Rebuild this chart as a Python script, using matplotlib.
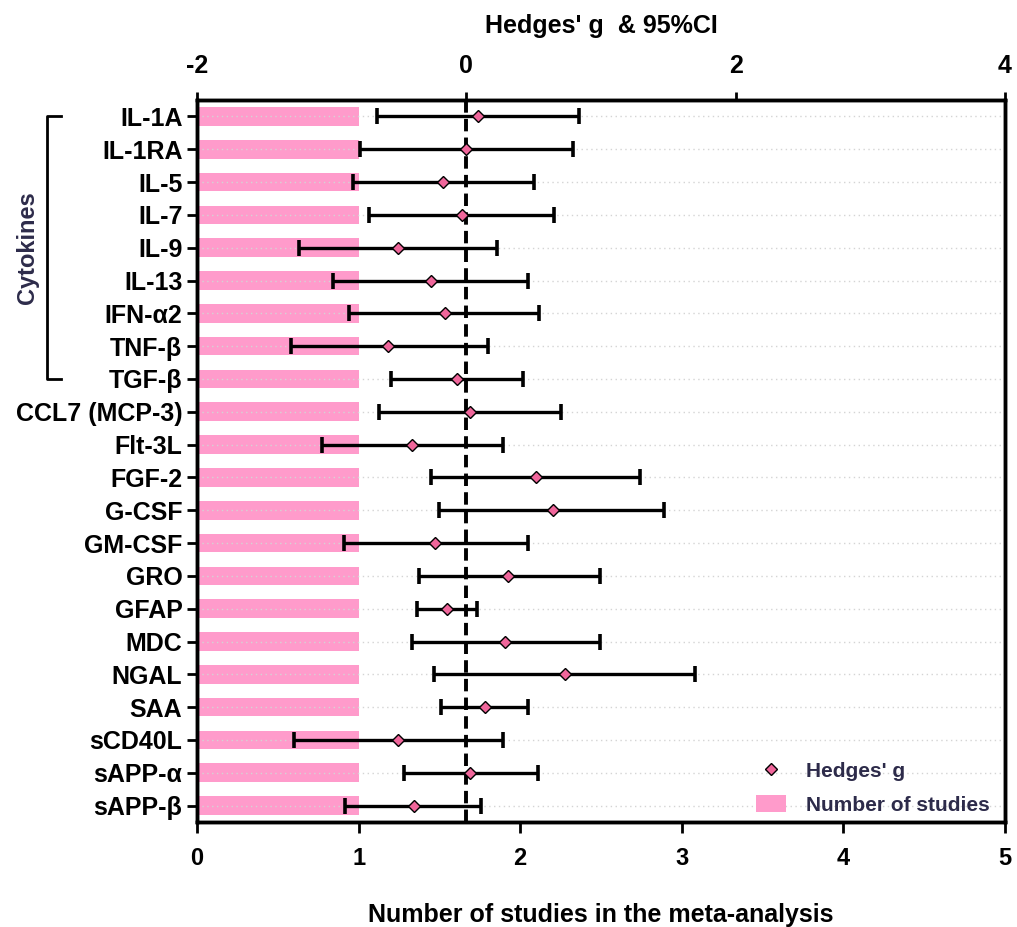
import numpy as np
import matplotlib.pyplot as plt
import matplotlib.transforms as mtransforms
from matplotlib.lines import Line2D
from matplotlib.patches import Patch

plt.rcParams['font.family'] = ['Liberation Sans', 'DejaVu Sans']
plt.rcParams['font.weight'] = 'bold'
plt.rcParams['axes.labelweight'] = 'bold'
plt.rcParams['axes.unicode_minus'] = False

markers = ['IL-1A', 'IL-1RA', 'IL-5', 'IL-7', 'IL-9', 'IL-13', 'IFN-α2', 'TNF-β', 'TGF-β',
           'CCL7 (MCP-3)', 'Flt-3L', 'FGF-2', 'G-CSF', 'GM-CSF', 'GRO', 'GFAP', 'MDC', 'NGAL',
           'SAA', 'sCD40L', 'sAPP-α', 'sAPP-β']
n_studies = [1, 1, 1, 1, 1, 1, 1, 1, 1, 1, 1, 1, 1, 1, 1, 1, 1, 1, 1, 1, 1, 1]
hedges_g = [0.09, 0.00, -0.17, -0.03, -0.51, -0.26, -0.16, -0.58, -0.07, 0.03, -0.40,
            0.52, 0.64, -0.23, 0.31, -0.14, 0.29, 0.73, 0.14, -0.51, 0.03, -0.39]
ci_low = [-0.66, -0.79, -0.84, -0.72, -1.24, -0.99, -0.87, -1.30, -0.56, -0.65, -1.07,
          -0.26, -0.20, -0.91, -0.35, -0.37, -0.40, -0.24, -0.19, -1.28, -0.46, -0.90]
ci_high = [0.84, 0.79, 0.50, 0.65, 0.23, 0.46, 0.54, 0.16, 0.42, 0.70, 0.27,
           1.29, 1.47, 0.46, 0.99, 0.08, 0.99, 1.70, 0.46, 0.27, 0.53, 0.11]
group_name = 'Cytokines'
group_rows = (0, 8)  # IL-1A .. TGF-β

bar_color = '#ff9bcb'
point_color = '#f0669b'
text_color = '#2d2b4a'

W, H = 1017, 927
fig = plt.figure(figsize=(W / 100, H / 100), dpi=100)
ax = fig.add_axes([197 / W, 1 - 822 / H, (1005 - 197) / W, (822 - 100) / H])

y = np.arange(len(markers))
g = np.array(hedges_g)
err = np.vstack([g - np.array(ci_low), np.array(ci_high) - g])

# bottom axis: number of studies
ax.barh(y, n_studies, height=0.57, color=bar_color, zorder=1)
ax.hlines(y, 0, 5, colors='#d4d4d4', linestyles=(0, (1, 2.5)), linewidth=1, zorder=2)
ax.set_xlim(0, 5)
ax.set_ylim(len(markers) - 0.5, -0.5)
ax.set_yticks(y)
ax.set_yticklabels(markers, fontsize=18)
ax.set_xticks(range(6))
ax.tick_params(axis='x', labelsize=17, width=2, length=8, pad=10)
ax.tick_params(axis='y', width=2, length=7, pad=3.5)
ax.set_xlabel('Number of studies in the meta-analysis', fontsize=18, labelpad=24)

# top axis: Hedges' g
ax2 = ax.twiny()
ax2.set_xlim(-2, 4)
ax2.set_xticks([-2, 0, 2, 4])
ax2.tick_params(axis='x', labelsize=18, width=2, length=6, pad=10)
ax2.set_xlabel("Hedges' g  & 95%CI", fontsize=18, labelpad=15)
ax2.axvline(0, color='black', linewidth=2.8, linestyle=(0, (3.2, 1.6)), zorder=3)
ax2.errorbar(g, y, xerr=err, fmt='none', ecolor='black', elinewidth=2.4,
             capsize=5.5, capthick=2.6, zorder=4)
ax2.plot(g, y, linestyle='none', marker='D', markersize=6, markerfacecolor=point_color,
         markeredgecolor='black', markeredgewidth=1, zorder=5)

for a in (ax, ax2):
    for s in a.spines.values():
        s.set_linewidth(2.5)

# bracket for cytokine group
trans = mtransforms.blended_transform_factory(fig.transFigure, ax.transData)
x0, x1 = 47 / W, 61 / W
ax.plot([x1, x0, x0, x1], [group_rows[0], group_rows[0], group_rows[1], group_rows[1]],
        color='black', linewidth=2, transform=trans, clip_on=False)
ax.text(28 / W, (group_rows[0] + group_rows[1]) / 2, group_name, transform=trans,
        rotation=90, ha='center', va='center', fontsize=17, color=text_color)

handles = [Line2D([], [], linestyle='none', marker='D', markersize=6,
                  markerfacecolor=point_color, markeredgecolor='black'),
           Patch(facecolor=bar_color, edgecolor='none')]
leg = fig.legend(handles, ["Hedges' g", 'Number of studies'], loc='lower left',
                 bbox_to_anchor=(756 / W, 1 - 815 / H), frameon=False, fontsize=15,
                 handlelength=1.45, handleheight=0.85, handletextpad=0.95,
                 labelspacing=0.7, borderpad=0, borderaxespad=0)
for t in leg.get_texts():
    t.set_color(text_color)

fig.savefig('out.png', dpi=100)
